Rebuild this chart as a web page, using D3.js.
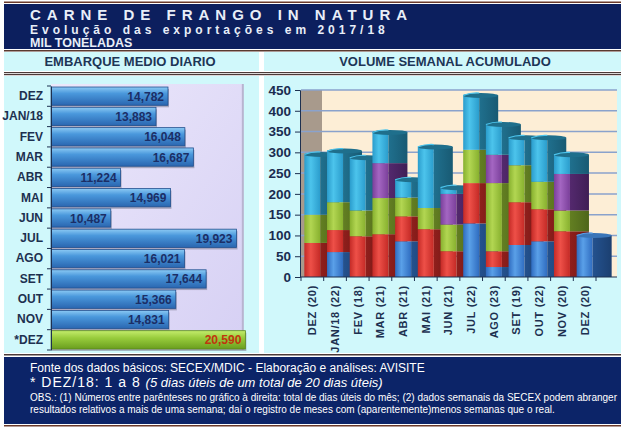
<!DOCTYPE html>
<html><head><meta charset="utf-8">
<script src="https://d3js.org/d3.v7.min.js"></script>
<style>
body{margin:0;background:#fff;}
svg{display:block;font-family:"Liberation Sans",Arial,sans-serif;}
</style></head>
<body>
<svg id="c" width="625" height="429"></svg>
<script>
// ---------- DATA ----------
const leftCats = ["DEZ","JAN/18","FEV","MAR","ABR","MAI","JUN","JUL","AGO","SET","OUT","NOV","*DEZ"];
const leftVals = [14782,13883,16048,16687,11224,14969,10487,19923,16021,17644,15366,14831,20590];

const rightCats = ["DEZ (20)","JAN/18 (22)","FEV (18)","MAR (21)","ABR (21)","MAI (21)","JUN (21)","JUL (22)","AGO (23)","SET (19)","OUT (22)","NOV (20)","DEZ (20)"];
const week1 = [0,60,0,0,86,0,0,129,24,77,86,0,100];
const week2 = [82,53,98,103,60,115,62,97,38,103,77,110,0];
const week3 = [68,67,62,87,45,51,64,80,164,89,66,50,0];
const week4 = [0,0,0,84,0,0,74,0,68,0,0,88,0];
const week5 = [145,123,127,74,43,147,15,131,73,66,106,46,0];
const yTicks = [0,50,100,150,200,250,300,350,400,450];

const seriesList = [week1,week2,week3,week4,week5];
const seriesColors = [
  {f1:"#5aa0e8",f2:"#2f6cc0",s1:"#24528f",s2:"#1b3f70",top:"#3a75b8"},
  {f1:"#ee5048",f2:"#c42a26",s1:"#901f1c",s2:"#6e1614",top:"#b02522"},
  {f1:"#b2d652",f2:"#87b02e",s1:"#637f22",s2:"#4d661a",top:"#7a9e28"},
  {f1:"#a466c2",f2:"#7a3f9a",s1:"#54296e",s2:"#3f1e55",top:"#6a3588"},
  {f1:"#4cc4ec",f2:"#2a9ccc",s1:"#20708e",s2:"#185a73",top:"#1f6f8c"}
];

const svg = d3.select("#c");
const defs = svg.append("defs");

// ---------- FRAME ----------
svg.append("rect").attr("x",4).attr("y",1.5).attr("width",617).attr("height",1.5).attr("fill","#6b3a2a");
svg.append("rect").attr("x",4).attr("y",4).attr("width",617).attr("height",45).attr("fill","#0c1f5e");
svg.append("rect").attr("x",4).attr("y",50).attr("width",617).attr("height",1.5).attr("fill","#5a3a30");
svg.append("rect").attr("x",4).attr("y",52).attr("width",255).attr("height",19).attr("fill","#d0f8fb");
svg.append("rect").attr("x",264).attr("y",52).attr("width",357).attr("height",19).attr("fill","#d0f8fb");
svg.append("rect").attr("x",4).attr("y",72).attr("width",617).attr("height",1.2).attr("fill","#4a3a38");
svg.append("rect").attr("x",4).attr("y",74).attr("width",617).attr("height",1.2).attr("fill","#4a3a38");
svg.append("rect").attr("x",4).attr("y",76).attr("width",255).attr("height",277).attr("fill","#d0f8fb");
svg.append("rect").attr("x",264).attr("y",76).attr("width",357).attr("height",277).attr("fill","#d0f8fb");
svg.append("rect").attr("x",4).attr("y",354).attr("width",617).attr("height",1.5).attr("fill","#4a3a38");
svg.append("rect").attr("x",4).attr("y",357).attr("width",617).attr("height",67).attr("fill","#0c2468");
svg.append("rect").attr("x",4).attr("y",425).attr("width",617).attr("height",1.5).attr("fill","#6b3a2a");

// titles
svg.append("text").attr("x",30).attr("y",20).attr("fill","#e8eef8").attr("font-size",15).attr("font-weight","bold").attr("letter-spacing",6).text("CARNE DE FRANGO IN NATURA");
svg.append("text").attr("x",30).attr("y",34).attr("fill","#e8eef8").attr("font-size",12).attr("font-weight","bold").attr("letter-spacing",4).text("Evolução das exportações em 2017/18");
svg.append("text").attr("x",30).attr("y",47).attr("fill","#e8eef8").attr("font-size",12.5).attr("font-weight","bold").attr("font-family","'Liberation Sans Narrow','Arial Narrow',sans-serif").text("MIL TONELADAS");
svg.append("text").attr("x",130).attr("y",66).attr("text-anchor","middle").attr("fill","#1d3556").attr("font-size",13).attr("font-weight","bold").text("EMBARQUE MEDIO DIARIO");
svg.append("text").attr("x",445).attr("y",66).attr("text-anchor","middle").attr("fill","#1d3556").attr("font-size",13).attr("font-weight","bold").text("VOLUME SEMANAL ACUMULADO");

// footer
svg.append("text").attr("x",30).attr("y",372).attr("fill","#fff").attr("font-size",12).text("Fonte dos dados básicos: SECEX/MDIC - Elaboração e análises: AVISITE");
const t2 = svg.append("text").attr("x",30).attr("y",387).attr("fill","#fff").attr("font-size",14);
t2.append("tspan").attr("letter-spacing",1).text("*  DEZ/18: 1 a 8 ");
t2.append("tspan").attr("font-style","italic").attr("font-size",13).text("(5 dias úteis de um total de 20 dias úteis)");
svg.append("text").attr("x",30).attr("y",401).attr("fill","#fff").attr("font-size",10).attr("font-family","'Liberation Sans Narrow','Arial Narrow',sans-serif").text("OBS.: (1) Números entre parênteses no gráfico à direita: total de dias úteis do mês; (2) dados semanais da SECEX podem abranger");
svg.append("text").attr("x",30).attr("y",413).attr("fill","#fff").attr("font-size",10).attr("font-family","'Liberation Sans Narrow','Arial Narrow',sans-serif").text("resultados relativos a mais de uma semana; daí o registro de meses com (aparentemente)menos semanas que o real.");

// ---------- LEFT CHART ----------
const lx = d3.scaleLinear().domain([6000,20600]).range([51,245.5]);
const ly = d3.scaleBand().domain(leftCats).range([86,350]).paddingInner(0.1).paddingOuter(0.05);

const lbg = defs.append("linearGradient").attr("id","lbg").attr("x1",0).attr("y1",0).attr("x2",1).attr("y2",1);
lbg.append("stop").attr("offset","0%").attr("stop-color","#ece8fb");
lbg.append("stop").attr("offset","100%").attr("stop-color","#d6d0f4");
svg.append("rect").attr("x",lx(6000)).attr("y",84).attr("width",lx(20400)-lx(6000)).attr("height",266).attr("fill","url(#lbg)");
svg.append("rect").attr("x",lx(20400)-1).attr("y",84).attr("width",2).attr("height",266).attr("fill","#b8b4d0");

const gBlue = defs.append("linearGradient").attr("id","gBlue").attr("x1",0).attr("y1",0).attr("x2",0).attr("y2",1);
gBlue.append("stop").attr("offset","0%").attr("stop-color","#8ccaf4");
gBlue.append("stop").attr("offset","35%").attr("stop-color","#4a98dc");
gBlue.append("stop").attr("offset","100%").attr("stop-color","#2a66b0");
const gGreen = defs.append("linearGradient").attr("id","gGreen").attr("x1",0).attr("y1",0).attr("x2",0).attr("y2",1);
gGreen.append("stop").attr("offset","0%").attr("stop-color","#c4ec6c");
gGreen.append("stop").attr("offset","40%").attr("stop-color","#98cc3c");
gGreen.append("stop").attr("offset","100%").attr("stop-color","#6a9e1e");

const lg = svg.append("g");
leftCats.forEach((c,i)=>{
  const v = leftVals[i];
  const last = i===leftCats.length-1;
  const y0 = ly(c), h = ly.bandwidth();
  lg.append("rect").attr("x",lx(6000)+1).attr("y",y0+2).attr("width",lx(v)-lx(6000)).attr("height",h).attr("fill","#7a7a90").attr("opacity",0.55);
  lg.append("rect").attr("x",lx(6000)).attr("y",y0).attr("width",lx(v)-lx(6000)).attr("height",h)
    .attr("fill", last?"url(#gGreen)":"url(#gBlue)").attr("stroke", last?"#5a8a1a":"#22508e").attr("stroke-width",0.8);
  lg.append("text").attr("x",lx(v)-4).attr("y",y0+h/2+4.5).attr("text-anchor","end")
    .attr("font-size",12).attr("font-weight","bold").attr("fill", last?"#c0360e":"#1b2e66")
    .text(d3.format(",")(v));
});
const lAxis = svg.append("g").attr("transform",`translate(${lx(6000)},0)`)
  .call(d3.axisLeft(ly).tickSize(0).tickPadding(8));
lAxis.select(".domain").attr("stroke","#1d3050");
lAxis.selectAll("text").attr("font-size",12).attr("font-weight","bold").attr("fill","#1d3050").attr("font-family","'Liberation Sans',Arial,sans-serif");
leftCats.forEach((c,i)=>{
  const yy = ly(c) - ly.step()*ly.paddingInner()/2;
  svg.append("line").attr("x1",lx(6000)-4).attr("x2",lx(6000)).attr("y1",yy).attr("y2",yy).attr("stroke","#1d3050");
});
svg.append("line").attr("x1",lx(6000)-4).attr("x2",lx(6000)).attr("y1",350).attr("y2",350).attr("stroke","#1d3050");

// ---------- RIGHT CHART ----------
const idx = rightCats.map((d,i)=>i);
const rx = d3.scaleBand().domain(idx).range([301,596]);
const ry = d3.scaleLinear().domain([0,450]).range([277,90]);

svg.append("rect").attr("x",301).attr("y",ry(450)).attr("width",316).attr("height",ry(0)-ry(450)).attr("fill","#fdeed6");
svg.append("rect").attr("x",301).attr("y",ry(450)).attr("width",21).attr("height",ry(0)-ry(450)).attr("fill","#a89a8c");
yTicks.forEach(t=>{
  if(t>0) svg.append("line").attr("x1",301).attr("x2",617).attr("y1",ry(t)).attr("y2",ry(t)).attr("stroke","#8aa2cc").attr("stroke-width",1.5);
});

seriesColors.forEach((c,k)=>{
  const gf = defs.append("linearGradient").attr("id","f"+k).attr("x1",0).attr("y1",0).attr("x2",1).attr("y2",0);
  gf.append("stop").attr("offset","0%").attr("stop-color",c.f2);
  gf.append("stop").attr("offset","40%").attr("stop-color",c.f1);
  gf.append("stop").attr("offset","100%").attr("stop-color",c.f2);
  const gs = defs.append("linearGradient").attr("id","s"+k).attr("x1",0).attr("y1",0).attr("x2",1).attr("y2",0);
  gs.append("stop").attr("offset","0%").attr("stop-color",c.s1);
  gs.append("stop").attr("offset","100%").attr("stop-color",c.s2);
});

const bars = svg.append("g");
const FW = 16, SW = 19;
idx.forEach(i=>{
  const cx = rx(i) + rx.bandwidth()/2;
  const x0 = cx - 8;
  let cum = 0, topK = 0;
  seriesList.forEach((s,k)=>{
    const v = s[i];
    if(!v) return;
    const yTop = ry(cum+v), yBot = ry(cum);
    bars.append("rect").attr("x",x0).attr("y",yTop).attr("width",FW).attr("height",yBot-yTop).attr("fill","url(#f"+k+")");
    bars.append("rect").attr("x",x0+FW).attr("y",yTop).attr("width",SW).attr("height",yBot-yTop).attr("fill","url(#s"+k+")");
    cum += v; topK = k;
  });
  const yT = ry(cum);
  bars.append("ellipse").attr("cx",x0+(FW+SW)/2).attr("cy",yT).attr("rx",(FW+SW)/2).attr("ry",2.5).attr("fill",seriesColors[topK].top);
  bars.append("path").attr("d",`M${x0},${yT} Q${x0+8},${yT-3} ${x0+FW},${yT-2.4}`).attr("stroke",seriesColors[topK].f1).attr("stroke-width",1.2).attr("fill","none");
});

const yAx = svg.append("g").attr("transform","translate(300,0)")
  .call(d3.axisLeft(ry).tickValues(yTicks).tickSize(5).tickPadding(4));
yAx.select(".domain").attr("stroke","#1d3050");
yAx.selectAll("line").attr("stroke","#1d3050");
yAx.selectAll("text").attr("font-size",13.5).attr("font-weight","bold").attr("fill","#1a2c50").attr("font-family","'Liberation Sans',Arial,sans-serif");

const xAx = svg.append("g").attr("transform",`translate(0,${ry(0)})`)
  .call(d3.axisBottom(rx).tickSize(0).tickPadding(0).tickFormat(i=>rightCats[i]));
xAx.select(".domain").attr("d",`M300,0H617`).attr("stroke","#1d3050").attr("stroke-width",1.2);
xAx.selectAll("text").attr("font-size",11).attr("font-weight","bold").attr("fill","#1d3050")
  .attr("letter-spacing",0.7).attr("font-family","'Liberation Sans',Arial,sans-serif")
  .attr("text-anchor","end").attr("transform","rotate(-90)").attr("x",-8).attr("y",0)
  .attr("dy","0.35em");
idx.forEach(i=>{
  const xx = rx(i);
  svg.append("line").attr("x1",xx).attr("x2",xx).attr("y1",ry(0)).attr("y2",ry(0)+4).attr("stroke","#1d3050");
});
svg.append("line").attr("x1",596).attr("x2",596).attr("y1",ry(0)).attr("y2",ry(0)+4).attr("stroke","#1d3050");
</script>
</body></html>
